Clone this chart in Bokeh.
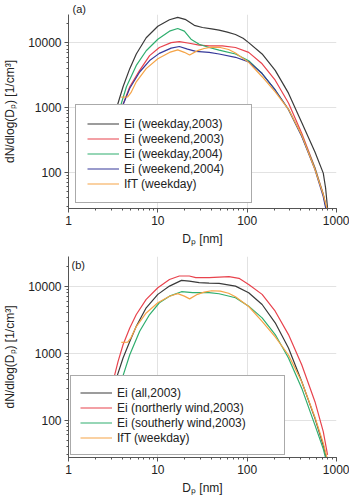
from bokeh.plotting import figure
from bokeh.layouts import column
from bokeh.models import Legend, LegendItem, Label, NumeralTickFormatter, Range1d, Title
from bokeh.embed import file_html
from bokeh.resources import INLINE

FONT = "Liberation Sans"

# ---- size distributions, panel (a) ----
d_wd03 = [3.2, 3.44, 4.08, 4.85, 5.74, 7.41, 10, 13.5, 16.7, 20.6, 25.6, 31.6, 40, 48.5, 60, 74, 90, 104, 147, 206, 290, 408, 574, 711, 755, 800]
n_wd03 = [500, 966, 2100, 4000, 6740, 12000, 18100, 22800, 24800, 22900, 18700, 17300, 16500, 15800, 14700, 13500, 11800, 10100, 6740, 3760, 1670, 587, 206, 97, 57, 25]

d_we03 = [3.4, 3.92, 4.85, 6.26, 8.09, 10.4, 14.1, 17.4, 22.5, 29, 37.5, 52.7, 74, 104, 147, 206, 290, 408, 574, 711, 780, 800]
n_we03 = [400, 966, 2100, 3770, 6350, 8490, 10100, 10500, 9890, 9230, 9010, 9010, 8490, 7130, 4750, 2650, 1180, 400, 118, 46, 26, 20]

d_wd04 = [3.3, 3.75, 4.45, 5.74, 7.41, 10, 13.5, 16.7, 19.8, 23.5, 29, 37.5, 48.5, 74, 104, 147, 206, 290, 408, 574, 711, 774, 800]
n_wd04 = [400, 966, 2100, 4490, 7570, 11400, 15200, 16700, 15200, 11400, 9550, 8490, 7750, 6740, 5300, 3360, 1870, 933, 367, 115, 45, 26, 20]

d_we04 = [3.4, 3.92, 4.85, 6.26, 8.09, 10.4, 14.1, 17.4, 21.5, 26.6, 37.5, 48.5, 74, 104, 147, 206, 290, 408, 574, 711, 774, 800]
n_we04 = [400, 966, 1990, 3550, 5340, 6890, 8300, 8790, 8020, 7400, 7130, 6740, 5990, 5100, 3360, 1870, 933, 360, 110, 42, 24, 18]

# IfT weekday reference spectrum (both panels)
d_ift = [3.9, 4.6, 5.0, 5.74, 7.41, 10, 13.5, 16.7, 19.8, 22.7, 27.8, 33, 40, 50, 62, 74, 104, 147, 206, 290, 408, 574, 711, 780, 810]
n_ift = [1450, 1460, 1700, 2500, 4000, 5700, 7130, 7800, 7150, 6500, 7600, 8200, 8600, 8500, 7900, 7000, 5000, 3000, 1750, 940, 375, 110, 45, 28, 22]

# ---- size distributions, panel (b) ----
d_all03 = [3.2, 3.44, 4.08, 4.85, 5.74, 7.41, 10, 13.5, 18.4, 22.5, 29, 37.5, 48.5, 74, 104, 147, 206, 290, 408, 574, 711, 780]
n_all03 = [250, 424, 847, 1500, 2530, 4780, 7590, 10100, 12300, 12000, 11400, 11200, 11100, 10100, 8040, 5360, 2850, 1200, 377, 106, 42, 25]

d_north03 = [3.0, 3.22, 3.59, 4.08, 4.85, 5.74, 7.41, 10, 13.5, 17.4, 22.5, 26.6, 37.5, 48.5, 62.6, 81, 104, 147, 206, 290, 408, 574, 711, 794]
n_north03 = [250, 424, 753, 1340, 2390, 3790, 6380, 9550, 12700, 14300, 14300, 13500, 13500, 13800, 14000, 13200, 10700, 7590, 4250, 1900, 672, 188, 67, 30]

d_south03 = [3.7, 4.0, 4.85, 6.26, 8.09, 10.4, 13.5, 18.4, 24.5, 37.5, 48.5, 74, 104, 147, 206, 290, 408, 574, 711, 800]
n_south03 = [250, 424, 949, 2130, 3790, 5690, 7140, 8320, 8040, 8040, 7760, 6760, 5060, 3380, 1900, 847, 300, 84, 37, 20]

X_RANGE = (1, 1000)
Y_RANGE_A = (27.5, 27500)
Y_RANGE_B = (27.5, 28000)

BLACK = "#3a3a3a"
RED = "#e8434d"
GREEN = "#2fae6e"
BLUE = "#36399a"
ORANGE = "#f5a447"


def make_panel(series, y_range, height, top, bottom, leg_offset, leg_padding, leg_label_width):
    p = figure(width=349, height=height, x_axis_type="log", y_axis_type="log",
               x_range=Range1d(*X_RANGE), y_range=Range1d(*y_range),
               output_backend="svg", toolbar_location=None,
               min_border_left=65, min_border_right=13,
               min_border_top=top, min_border_bottom=bottom)
    p.outline_line_color = None
    p.background_fill_color = "white"

    for g in (p.xgrid, p.ygrid):
        g.grid_line_color = "#e2e2e2"
        g.grid_line_width = 1

    for ax in (p.xaxis, p.yaxis):
        ax.formatter = NumeralTickFormatter(format="0")
        ax.axis_line_color = "#555555"
        ax.major_tick_line_color = "#555555"
        ax.minor_tick_line_color = "#555555"
        ax.major_label_text_font = FONT
        ax.major_label_text_font_size = "12px"
        ax.major_label_text_color = "#222222"
        ax.axis_label_text_font = FONT
        ax.axis_label_text_font_size = "12px"
        ax.axis_label_text_font_style = "normal"
        ax.axis_label_text_color = "#222222"
        ax.major_tick_in = 0
        ax.major_tick_out = 4
        ax.minor_tick_in = 0
        ax.minor_tick_out = 2
        ax.major_label_standoff = 3

    p.xaxis.axis_label = "Dₚ [nm]"
    p.xaxis.axis_label_standoff = 4
    p.yaxis.axis_label = "dN/dlog(Dₚ) [1/cm³]"
    p.yaxis.axis_label_standoff = 8

    items = []
    for label, xs, ys, color in series:
        r = p.line(xs, ys, line_color=color, line_width=1.2)
        items.append(LegendItem(label=label, renderers=[r]))

    legend = Legend(items=items, location=leg_offset,
                    label_text_font=FONT, label_text_font_size="12px",
                    label_text_color="#222222",
                    glyph_width=32, glyph_height=15, label_height=15,
                    label_width=leg_label_width, label_standoff=5,
                    spacing=0, padding=leg_padding, margin=0,
                    border_line_color="#555555", border_line_width=1,
                    background_fill_color="white", background_fill_alpha=1.0)
    p.add_layout(legend)
    return p


pa = make_panel(
    [("Ei (weekday,2003)", d_wd03, n_wd03, BLACK),
     ("Ei (weekend,2003)", d_we03, n_we03, RED),
     ("Ei (weekday,2004)", d_wd04, n_wd04, GREEN),
     ("Ei (weekend,2004)", d_we04, n_we04, BLUE),
     ("IfT (weekday)", d_ift, n_ift, ORANGE)],
    Y_RANGE_A, height=248, top=12, bottom=38,
    leg_offset=(7, 5), leg_padding=11, leg_label_width=116)
# panel tag sits above the frame
pa.add_layout(Title(text="(a)", align="left", offset=4, standoff=0,
                    text_font=FONT, text_font_size="11px", text_font_style="normal",
                    text_color="#222222"), "above")

pb = make_panel(
    [("Ei (all,2003)", d_all03, n_all03, BLACK),
     ("Ei (northerly wind,2003)", d_north03, n_north03, RED),
     ("Ei (southerly wind,2003)", d_south03, n_south03, GREEN),
     ("IfT (weekday)", d_ift, n_ift, ORANGE)],
    Y_RANGE_B, height=252, top=8, bottom=43,
    leg_offset=(2, 2), leg_padding=9, leg_label_width=158)
pb.add_layout(Label(x=3, y=199, x_units="screen", y_units="screen", text="(b)",
                    text_font=FONT, text_font_size="11px", text_color="#222222",
                    text_baseline="top"))

layout = column(pa, pb, spacing=0)
open("out.html", "w").write(file_html(layout, INLINE))
